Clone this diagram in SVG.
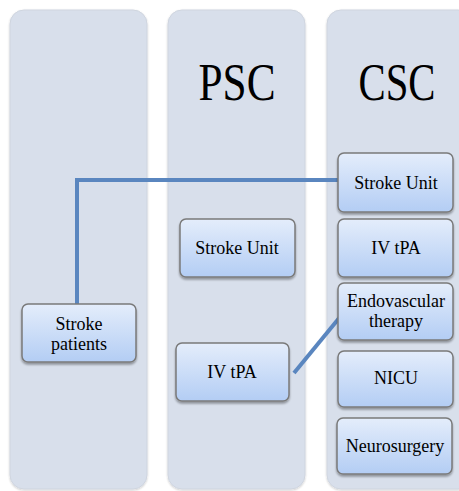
<svg xmlns="http://www.w3.org/2000/svg" width="459" height="491" viewBox="0 0 459 491">
<defs>
<linearGradient id="ng" x1="0" y1="0" x2="0" y2="1">
<stop offset="0" stop-color="#e4edfb"/>
<stop offset="1" stop-color="#b3cdf4"/>
</linearGradient>
<filter id="sh" x="-20%" y="-20%" width="140%" height="150%">
<feGaussianBlur in="SourceAlpha" stdDeviation="1.2"/>
<feOffset dx="0" dy="2" result="b"/>
<feComponentTransfer><feFuncA type="linear" slope="0.35"/></feComponentTransfer>
<feMerge><feMergeNode/><feMergeNode in="SourceGraphic"/></feMerge>
</filter>
<filter id="csh" x="-10%" y="-10%" width="120%" height="120%">
<feGaussianBlur in="SourceAlpha" stdDeviation="1"/>
<feOffset dx="0" dy="1"/>
<feComponentTransfer><feFuncA type="linear" slope="0.2"/></feComponentTransfer>
<feMerge><feMergeNode/><feMergeNode in="SourceGraphic"/></feMerge>
</filter>
</defs>
<style>
.col{fill:#d8dfeb;stroke:#cfd5df;stroke-width:1;filter:url(#csh)}
.node{fill:url(#ng);stroke:#7a7a7a;stroke-width:1.5;filter:url(#sh)}
.t{font-family:"Liberation Serif","Times New Roman",serif;font-size:18px;fill:#000;text-anchor:middle}
.h{font-family:"Liberation Serif","Times New Roman",serif;font-size:52px;fill:#000;text-anchor:middle}
.c{fill:none;stroke:#5a86bf;stroke-width:4}
</style>
<rect width="459" height="491" fill="#fff"/>
<g id="col-left"><rect class="col" x="10" y="10" width="137" height="479" rx="14"/></g>
<g id="col-psc"><rect class="col" x="168" y="10" width="137" height="479" rx="14"/>
<text class="h" x="237" y="100" textLength="77" lengthAdjust="spacingAndGlyphs">PSC</text></g>
<g id="col-csc"><rect class="col" x="327" y="10" width="145" height="479" rx="14"/>
<text class="h" x="397" y="100" textLength="77" lengthAdjust="spacingAndGlyphs">CSC</text></g>
<g id="connectors">
<polyline class="c" points="77,304 77,180 339,180"/>
<line class="c" x1="294" y1="373" x2="340" y2="317"/>
</g>
<g id="stroke-patients"><rect class="node" x="22" y="304" width="114" height="58" rx="6"/>
<text class="t" x="79" y="330">Stroke</text><text class="t" x="79" y="350">patients</text></g>
<g id="psc-stroke-unit"><rect class="node" x="180" y="219" width="115" height="58" rx="6"/>
<text class="t" x="237" y="254">Stroke Unit</text></g>
<g id="psc-iv-tpa"><rect class="node" x="176" y="343" width="113" height="58" rx="6"/>
<text class="t" x="232" y="378">IV tPA</text></g>
<g id="csc-stroke-unit"><rect class="node" x="338" y="153" width="115" height="59" rx="6"/>
<text class="t" x="396" y="189">Stroke Unit</text></g>
<g id="csc-iv-tpa"><rect class="node" x="338" y="219" width="115" height="58" rx="6"/>
<text class="t" x="396" y="254">IV tPA</text></g>
<g id="csc-endovascular"><rect class="node" x="338" y="283" width="115" height="57" rx="6"/>
<text class="t" x="396" y="307">Endovascular</text><text class="t" x="396" y="327">therapy</text></g>
<g id="csc-nicu"><rect class="node" x="338" y="351" width="115" height="56" rx="6"/>
<text class="t" x="396" y="384">NICU</text></g>
<g id="csc-neurosurgery"><rect class="node" x="337" y="418" width="115" height="56" rx="6"/>
<text class="t" x="395" y="452">Neurosurgery</text></g>
</svg>
